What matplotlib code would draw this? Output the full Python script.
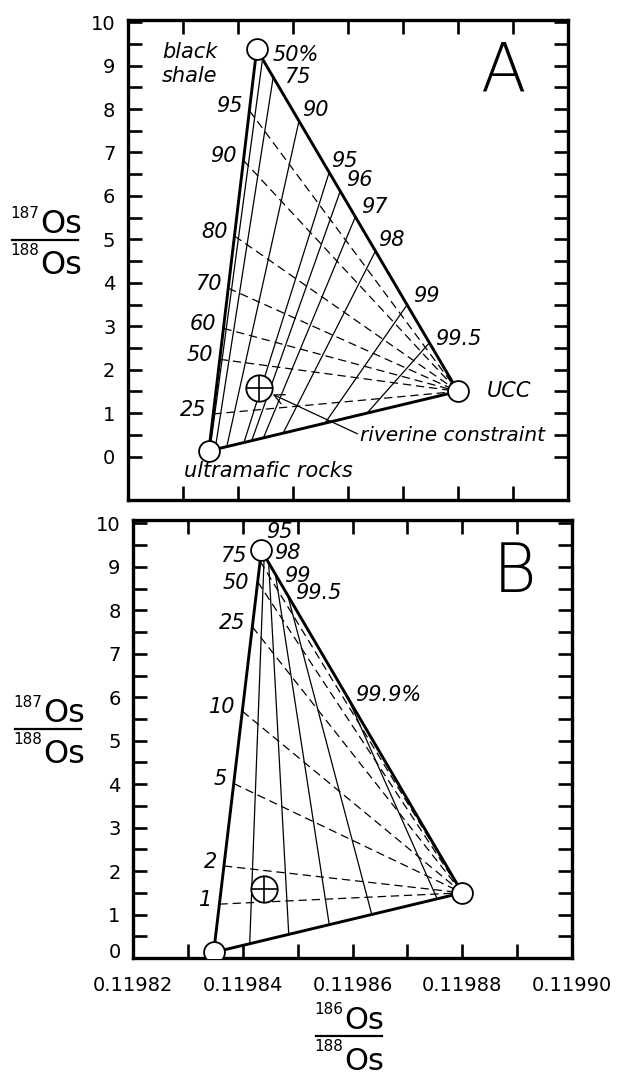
import matplotlib
matplotlib.use("Agg")
import matplotlib.pyplot as plt
from matplotlib.lines import Line2D
from matplotlib.ticker import MultipleLocator, FixedLocator, FormatStrFormatter, FuncFormatter

plt.rcParams['font.family'] = ['DejaVu Sans']
plt.rcParams['lines.scale_dashes'] = False

# end-members (186Os/188Os, 187Os/188Os)
shale = (0.1198434, 9.38)
ultramafic = (0.1198347, 0.13)
ucc = (0.1198800, 1.50)
riverine = (0.1198438, 1.58)

# panel A: constant % UCC (solid), position read along shale->UCC and ultramafic->UCC edges
a_ucc_labels = ["50%", "75", "90", "95", "96", "97", "98", "99", "99.5"]
a_ucc_top = [0.029, 0.082, 0.21, 0.36, 0.415, 0.49, 0.59, 0.747, 0.858]
a_ucc_bottom = [0.004, 0.025, 0.072, 0.141, 0.172, 0.219, 0.298, 0.466, 0.635]
# panel A: constant % black shale (dashed), position read along ultramafic->shale edge
a_shale_labels = ["95", "90", "80", "70", "60", "50", "25"]
a_shale_pos = [0.847, 0.723, 0.535, 0.405, 0.305, 0.228, 0.092]

# panel B
b_ucc_labels = ["95", "98", "99", "99.5", "99.9%"]
b_ucc_top = [0.014, 0.036, 0.07, 0.131, 0.43]
b_ucc_bottom = [0.145, 0.302, 0.465, 0.636, 0.899]
b_shale_labels = ["75", "50", "25", "10", "5", "2", "1"]
b_shale_pos = [0.973, 0.922, 0.81, 0.60, 0.42, 0.215, 0.12]

y_ticks = list(range(0, 11))
y_minor = [v + 0.5 for v in range(0, 10)]

# label offsets in points
a_ucc_off = {"50%": (7, 3), "75": (8, 0), "90": (2, 8), "95": (1.5, 8.5), "96": (4, 8),
             "97": (4, 7), "98": (2, 8), "99": (4, 6.5), "99.5": (4, 3)}
b_ucc_off = {"95": (1.5, 16.5), "98": (4, 7), "99": (6.5, -1), "99.5": (5, 1.5), "99.9%": (5, 2)}
a_shale_off = {}
b_shale_off = {"75": (-10, 3.5), "50": (-6, -1)}

W, H = 617, 1075
fig = plt.figure(figsize=(W / 100, H / 100), dpi=100)


def px_axes(left, top, right, bottom):
    return fig.add_axes([left / W, 1 - bottom / H, (right - left) / W, (bottom - top) / H])


def along(p, q, t):
    return p[0] + t * (q[0] - p[0]), p[1] + t * (q[1] - p[1])


def setup_axes(ax, ylim, xlabels, skip_zero=False):
    ax.set_xlim(0.11982, 0.11990)
    ax.set_ylim(*ylim)
    ax.xaxis.set_major_locator(MultipleLocator(0.00002))
    ax.xaxis.set_minor_locator(MultipleLocator(0.00001))
    ax.xaxis.set_major_formatter(FormatStrFormatter('%.5f'))
    ax.yaxis.set_major_locator(FixedLocator(y_ticks))
    ax.yaxis.set_minor_locator(FixedLocator(y_minor))
    ax.yaxis.set_major_formatter(FuncFormatter(
        lambda v, pos: '' if (skip_zero and v == 0) else '%d' % v))
    ax.tick_params(which='both', direction='in', length=10, width=1.9,
                   top=True, right=True, labelsize=14)
    ax.tick_params(axis='y', pad=9)
    ax.tick_params(axis='x', pad=13, labelbottom=xlabels)
    for s in ax.spines.values():
        s.set_linewidth(2.4)
    if skip_zero:
        # the zero label sits a little above its tick, clear of the x labels
        ax.annotate('0', (0, 0), xycoords='axes fraction', xytext=(-9, 4),
                    textcoords='offset points', ha='right', va='center', fontsize=14)


def draw_mixing(ax, ucc_labels, ucc_top, ucc_bottom, ucc_off, shale_labels, shale_pos, shale_off):
    for lab, t, s in zip(ucc_labels, ucc_top, ucc_bottom):
        x0, y0 = along(shale, ucc, t)
        x1, y1 = along(ultramafic, ucc, s)
        ax.plot([x0, x1], [y0, y1], color='black', lw=0.9, zorder=2)
        ax.annotate(lab, (x0, y0), xytext=ucc_off.get(lab, (4, 6)), textcoords='offset points',
                    ha='left', va='center', fontsize=15, style='italic')
    for lab, u in zip(shale_labels, shale_pos):
        x0, y0 = along(ultramafic, shale, u)
        ax.plot([x0, ucc[0]], [y0, ucc[1]], color='black', lw=0.9, ls=(0, (6, 3.5)), zorder=2)
        ax.annotate(lab, (x0, y0), xytext=shale_off.get(lab, (-5, 3)), textcoords='offset points',
                    ha='right', va='center', fontsize=15, style='italic')
    ax.plot([ultramafic[0], shale[0], ucc[0], ultramafic[0]],
            [ultramafic[1], shale[1], ucc[1], ultramafic[1]],
            color='black', lw=2.1, zorder=3)
    ax.plot([shale[0], ultramafic[0], ucc[0]], [shale[1], ultramafic[1], ucc[1]],
            ls='none', marker='o', ms=15, mfc='white', mec='black', mew=1.3, zorder=4)
    ax.plot(riverine[0], riverine[1], marker='o', ms=19, mfc='white', mec='black', mew=1.3, zorder=4)
    ax.plot(riverine[0], riverine[1], marker='+', ms=19, mec='black', mew=1.2, zorder=5)


def ratio_label(cx, bar_y, top, bottom, size=23):
    tr = fig.dpi_scale_trans

    def p(x, y):
        return x / 100, (H - y) / 100
    fig.add_artist(Line2D([(cx - 33) / 100, (cx + 33) / 100], [(H - bar_y) / 100] * 2,
                          transform=tr, color='black', lw=1.6))
    fig.text(*p(cx - 5, bar_y - 7), "Os", transform=tr, ha='left', va='baseline', fontsize=size)
    fig.text(*p(cx - 6, bar_y - 34), top, transform=tr, ha='right', va='top', fontsize=11)
    fig.text(*p(cx - 5, bar_y + 34), "Os", transform=tr, ha='left', va='baseline', fontsize=size)
    fig.text(*p(cx - 6, bar_y + 3), bottom, transform=tr, ha='right', va='top', fontsize=11)


# Panel A
axA = px_axes(128, 20, 568, 500)
setup_axes(axA, (-1, 10.05), False)
draw_mixing(axA, a_ucc_labels, a_ucc_top, a_ucc_bottom, a_ucc_off,
            a_shale_labels, a_shale_pos, a_shale_off)
axA.annotate("black\nshale", shale, xytext=(-68, -11), textcoords='offset points',
             ha='left', va='center', fontsize=15, style='italic', linespacing=1.25)
axA.annotate("ultramafic rocks", ultramafic, xytext=(-18, -14.5), textcoords='offset points',
             ha='left', va='center', fontsize=15, style='italic')
axA.annotate("UCC", ucc, xytext=(21, 0), textcoords='offset points',
             ha='left', va='center', fontsize=15, style='italic')
axA.annotate("riverine constraint", riverine, xytext=(73, -34), textcoords='offset points',
             ha='left', va='center', fontsize=14.5, style='italic',
             arrowprops=dict(arrowstyle='->,head_length=0.5,head_width=0.25', lw=0.9,
                             color='black', shrinkA=0, shrinkB=11, relpos=(0, 0.5)))
axA.text(0.852, 0.89, "A", transform=axA.transAxes, ha='center', va='center',
         fontsize=48, fontweight='light')

# Panel B
axB = px_axes(133, 520, 572, 958)
setup_axes(axB, (0, 10.08), True, skip_zero=True)
draw_mixing(axB, b_ucc_labels, b_ucc_top, b_ucc_bottom, b_ucc_off,
            b_shale_labels, b_shale_pos, b_shale_off)
axB.text(0.87, 0.879, "B", transform=axB.transAxes, ha='center', va='center',
         fontsize=48, fontweight='light')

ratio_label(45, 240, "187", "188")
ratio_label(48, 729, "187", "188")
ratio_label(349, 1036, "186", "188", size=22)

fig.savefig("out.png", dpi=100)
